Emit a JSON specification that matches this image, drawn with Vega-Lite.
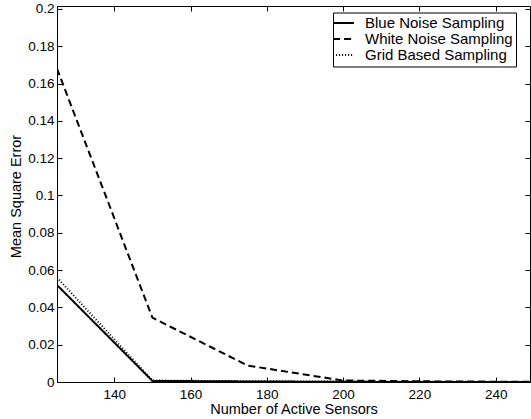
{
  "$schema": "https://vega.github.io/schema/vega-lite/v6.json",
  "width": 473,
  "height": 376,
  "autosize": {"type": "none"},
  "padding": {"left": 57, "top": 6, "right": 1, "bottom": 37},
  "background": "white",
  "config": {
    "view": {"stroke": "black", "strokeWidth": 1},
    "font": "Liberation Sans",
    "axis": {"grid": false, "domainColor": "black", "tickColor": "black", "labelColor": "black", "titleColor": "black", "labelFont": "Liberation Sans", "titleFont": "Liberation Sans", "labelFontSize": 13.5, "titleFontSize": 14.5, "titleFontWeight": "normal"}
  },
  "data": {"values": [
    {"series": "Blue Noise Sampling", "n": 125, "mse": 0.052},
    {"series": "Blue Noise Sampling", "n": 150, "mse": 0.0006},
    {"series": "Blue Noise Sampling", "n": 175, "mse": 0.0003},
    {"series": "Blue Noise Sampling", "n": 200, "mse": 0.0001},
    {"series": "Blue Noise Sampling", "n": 225, "mse": 0},
    {"series": "Blue Noise Sampling", "n": 250, "mse": 0},
    {"series": "White Noise Sampling", "n": 125, "mse": 0.168},
    {"series": "White Noise Sampling", "n": 150, "mse": 0.0345},
    {"series": "White Noise Sampling", "n": 175, "mse": 0.0088},
    {"series": "White Noise Sampling", "n": 200, "mse": 0.0008},
    {"series": "White Noise Sampling", "n": 225, "mse": 0.0003},
    {"series": "White Noise Sampling", "n": 250, "mse": 0.0001},
    {"series": "Grid Based Sampling", "n": 125, "mse": 0.056},
    {"series": "Grid Based Sampling", "n": 150, "mse": 0.0008},
    {"series": "Grid Based Sampling", "n": 175, "mse": 0.0004},
    {"series": "Grid Based Sampling", "n": 200, "mse": 0.0002},
    {"series": "Grid Based Sampling", "n": 225, "mse": 0.0001},
    {"series": "Grid Based Sampling", "n": 250, "mse": 0}
  ]},
  "layer": [
    {
      "mark": {"type": "line", "clip": true, "color": "black"},
      "encoding": {
        "x": {"field": "n", "type": "quantitative",
          "scale": {"domain": [125, 249], "nice": false, "zero": false},
          "axis": {"orient": "bottom", "values": [140, 160, 180, 200, 220, 240], "tickSize": -5, "labelPadding": 10, "title": "Number of Active Sensors", "titleY": 31, "titleBaseline": "alphabetic"}},
        "y": {"field": "mse", "type": "quantitative",
          "scale": {"domain": [0, 0.2016], "nice": false},
          "axis": {"orient": "left", "values": [0, 0.02, 0.04, 0.06, 0.08, 0.1, 0.12, 0.14, 0.16, 0.18, 0.2], "format": "~g", "tickSize": -5, "labelPadding": 8, "title": "Mean Square Error", "titleX": -41, "titleY": 190, "titleAngle": -90, "titleBaseline": "middle", "titleAlign": "center"}},
        "strokeDash": {"field": "series", "type": "nominal",
          "scale": {"domain": ["Blue Noise Sampling", "White Noise Sampling", "Grid Based Sampling"], "range": [[1, 0], [7, 4], [1, 2]]},
          "legend": {"title": null, "orient": "none", "legendX": 276, "legendY": 6.5, "strokeColor": "black", "fillColor": "white", "padding": 3, "symbolType": "M-1.6,0H1.6", "symbolSize": 169, "symbolStrokeWidth": 2, "symbolStrokeColor": "black", "labelFont": "Liberation Sans", "labelFontSize": 15, "labelColor": "black", "labelOffset": 14, "rowPadding": 0, "cornerRadius": 0}},
        "strokeWidth": {"field": "series", "type": "nominal",
          "scale": {"domain": ["Blue Noise Sampling", "White Noise Sampling", "Grid Based Sampling"], "range": [2, 2, 1]},
          "legend": null}
      }
    },
    {
      "mark": {"type": "point", "opacity": 0},
      "encoding": {
        "x": {"field": "n", "type": "quantitative",
          "axis": {"orient": "top", "values": [140, 160, 180, 200, 220, 240], "tickSize": -5, "labels": false, "domain": false, "title": null}},
        "y": {"field": "mse", "type": "quantitative",
          "axis": {"orient": "right", "values": [0, 0.02, 0.04, 0.06, 0.08, 0.1, 0.12, 0.14, 0.16, 0.18, 0.2], "tickSize": -5, "labels": false, "domain": false, "title": null}}
      }
    }
  ],
  "resolve": {"axis": {"x": "independent", "y": "independent"}}
}
